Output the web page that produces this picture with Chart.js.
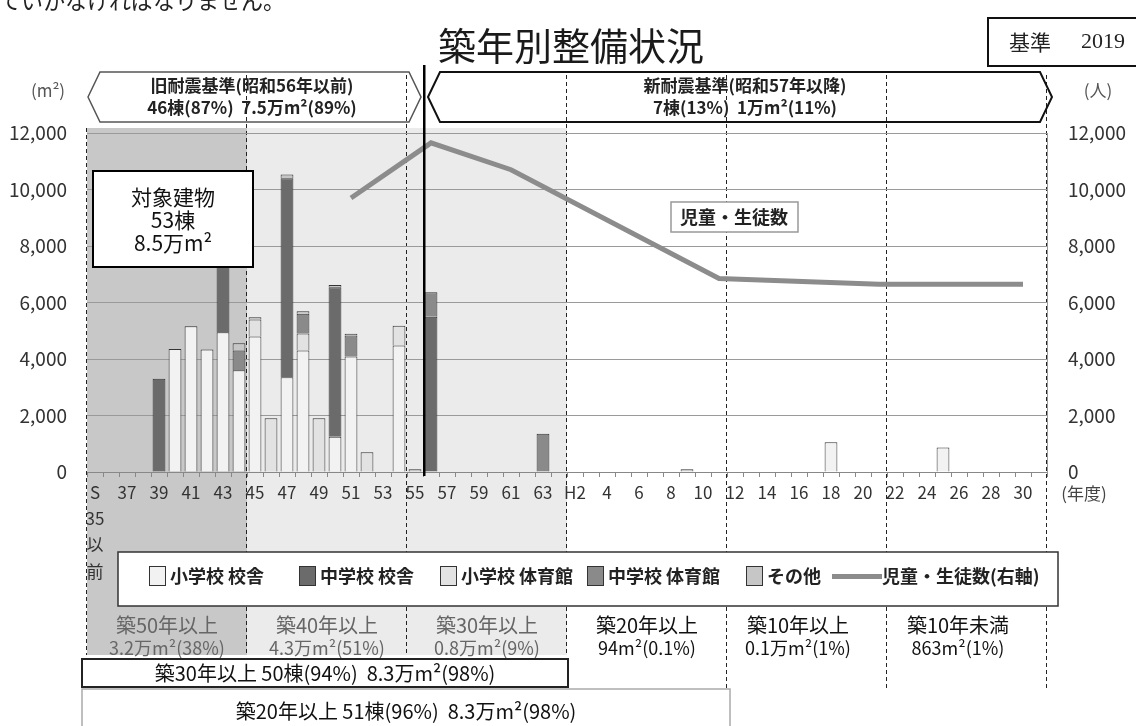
<!DOCTYPE html>
<html lang="ja">
<head>
<meta charset="utf-8">
<title>築年別整備状況</title>
<script src="https://cdn.jsdelivr.net/npm/chart.js@4"></script>
<style>
  html, body { margin: 0; padding: 0; background: #fff; }
  #chart { display: block; }
</style>
</head>
<body>
<canvas id="chart" width="1136" height="726"></canvas>
<script>
const JP = '"Noto Sans CJK JP", "DejaVu Sans", sans-serif';

// fiscal years, S35以前 .. H31
const years = [
  'S35以前', 'S36', 'S37', 'S38', 'S39', 'S40', 'S41', 'S42', 'S43', 'S44',
  'S45', 'S46', 'S47', 'S48', 'S49', 'S50', 'S51', 'S52', 'S53', 'S54',
  'S55', 'S56', 'S57', 'S58', 'S59', 'S60', 'S61', 'S62', 'S63', 'H1',
  'H2', 'H3', 'H4', 'H5', 'H6', 'H7', 'H8', 'H9', 'H10', 'H11',
  'H12', 'H13', 'H14', 'H15', 'H16', 'H17', 'H18', 'H19', 'H20', 'H21',
  'H22', 'H23', 'H24', 'H25', 'H26', 'H27', 'H28', 'H29', 'H30', 'H31'
];

const tickLabels = [
  ['S', '35', '以', '前'], '', '37', '', '39', '', '41', '', '43', '',
  '45', '', '47', '', '49', '', '51', '', '53', '',
  '55', '', '57', '', '59', '', '61', '', '63', '',
  'H2', '', '4', '', '6', '', '8', '', '10', '',
  '12', '', '14', '', '16', '', '18', '', '20', '',
  '22', '', '24', '', '26', '', '28', '', '30', ''
];

const _ = null;
// floor area (m2) by building type
const elemBuilding = [
  _, _, _, _, _, 4350, 5160, 4340, 4950, 3600,
  4800, _, 3350, 4300, _, 1250, 4090, _, _, 4480,
  _, _, _, _, _, _, _, _, _, _,
  _, _, _, _, _, _, _, _, _, _,
  _, _, _, _, _, _, 1050, _, _, _,
  _, _, _, 863, _, _, _, _, _, _
];
const juniorBuilding = [
  _, _, _, _, 3300, _, _, _, 5100, _,
  _, _, 7050, _, _, 5290, _, _, _, _,
  _, 5500, _, _, _, _, _, _, _, _,
  _, _, _, _, _, _, _, _, _, _,
  _, _, _, _, _, _, _, _, _, _,
  _, _, _, _, _, _, _, _, _, _
];
const elemGym = [
  _, _, _, _, _, _, _, _, _, _,
  600, 1900, _, 600, 1900, _, _, 700, _, 700,
  _, _, _, _, _, _, _, _, _, _,
  _, _, _, _, _, _, _, _, _, _,
  _, _, _, _, _, _, _, _, _, _,
  _, _, _, _, _, _, _, _, _, _
];
const juniorGym = [
  _, _, _, _, _, _, _, _, _, 700,
  _, _, _, 700, _, _, 740, _, _, _,
  _, 860, _, _, _, _, _, _, 1350, _,
  _, _, _, _, _, _, _, _, _, _,
  _, _, _, _, _, _, _, _, _, _,
  _, _, _, _, _, _, _, _, _, _
];
const others = [
  _, _, _, _, _, _, _, _, _, 260,
  80, _, 130, 90, _, 80, 60, _, _, _,
  100, _, _, _, _, _, _, _, _, _,
  _, _, _, _, _, _, _, 94, _, _,
  _, _, _, _, _, _, _, _, _, _,
  _, _, _, _, _, _, _, _, _, _
];
// pupils and students (right axis)
const students = [
  _, _, _, _, _, _, _, _, _, _,
  _, _, _, _, _, _, 9700, _, _, _,
  _, 11650, _, _, _, _, 10700, _, _, _,
  _, _, _, _, _, _, _, _, _, 6850,
  _, _, _, _, _, _, _, _, _, 6650,
  _, _, _, _, _, _, _, _, 6650, _
];

const seriesNames = ['小学校 校舎', '中学校 校舎', '小学校 体育館', '中学校 体育館', 'その他', '児童・生徒数(右軸)'];
const seriesColors = ['#f2f2f2', '#6b6b6b', '#e2e2e2', '#8a8a8a', '#c6c6c6', '#8c8c8c'];

function text(ctx, str, x, y, font, color, align) {
  ctx.font = font;
  ctx.fillStyle = color || '#222';
  ctx.textAlign = align || 'center';
  ctx.textBaseline = 'middle';
  ctx.fillText(str, x, y);
}

function chevronBox(ctx, x1, x2, y1, y2, color, width) {
  const ym = (y1 + y2) / 2;
  ctx.beginPath();
  ctx.moveTo(x1, ym);
  ctx.lineTo(x1 + 12, y1);
  ctx.lineTo(x2 - 12, y1);
  ctx.lineTo(x2, ym);
  ctx.lineTo(x2 - 12, y2);
  ctx.lineTo(x1 + 12, y2);
  ctx.closePath();
  ctx.strokeStyle = color;
  ctx.lineWidth = width;
  ctx.stroke();
}

const decor = {
  id: 'decor',
  beforeDraw(chart) {
    const {ctx, chartArea: a} = chart;
    const edge = i => a.left + i * a.width / years.length;
    ctx.save();
    // age bands
    ctx.fillStyle = '#c8c8c8';
    ctx.fillRect(edge(0), 128, edge(10) - edge(0), 527);
    ctx.fillStyle = '#ebebeb';
    ctx.fillRect(edge(10), 128, edge(30) - edge(10), 527);
    // dashed band borders
    ctx.setLineDash([4, 3]);
    ctx.strokeStyle = '#222';
    ctx.lineWidth = 1;
    [0, 10, 20, 30, 40, 50, 60].forEach(i => {
      const px = Math.round(edge(i)) - 0.5;
      ctx.beginPath();
      ctx.moveTo(px, i === 0 ? 128 : 75);
      ctx.lineTo(px, i <= 30 ? 655 : 690);
      ctx.stroke();
    });
    ctx.restore();
  },
  afterDraw(chart) {
    const {ctx, chartArea: a} = chart;
    const edge = i => a.left + i * a.width / years.length;
    ctx.save();

    // cut-off line of body text above the chart
    ctx.font = '22px ' + JP;
    ctx.fillStyle = '#222';
    ctx.textAlign = 'left';
    ctx.textBaseline = 'alphabetic';
    ctx.fillText('ていかなければなりません。', -1, 9);

    text(ctx, '築年別整備状況', 571, 46, '38px ' + JP, '#1a1a1a');

    // base year box
    ctx.fillStyle = '#fff';
    ctx.fillRect(988, 18, 160, 48);
    ctx.strokeStyle = '#111';
    ctx.lineWidth = 2;
    ctx.strokeRect(988, 18, 160, 48);
    text(ctx, '基準', 1030, 42, '21px ' + JP, '#222');
    text(ctx, '2019', 1103, 42, '22px "Liberation Serif", serif', '#222');

    // units
    text(ctx, '(m²)', 48, 91, '17px ' + JP, '#555');
    text(ctx, '(人)', 1098, 91, '17px ' + JP, '#555');
    text(ctx, '(年度)', 1084, 494, '17px ' + JP, '#444');

    // seismic standard split
    ctx.fillStyle = '#000';
    ctx.fillRect(edge(21), 65, 2.5, 411);
    chevronBox(ctx, 88, 421, 72, 122, '#555', 1.5);
    chevronBox(ctx, 428, 1052, 72, 122, '#111', 2);
    text(ctx, '旧耐震基準(昭和56年以前)', 252, 86, 'bold 17px ' + JP, '#222');
    text(ctx, '46棟(87%)  7.5万m²(89%)', 252, 108, 'bold 17px ' + JP, '#222');
    text(ctx, '新耐震基準(昭和57年以降)', 745, 86, 'bold 17px ' + JP, '#222');
    text(ctx, '7棟(13%)  1万m²(11%)', 745, 108, 'bold 17px ' + JP, '#222');

    // target buildings box
    ctx.fillStyle = '#fff';
    ctx.fillRect(93, 171, 160, 96);
    ctx.strokeStyle = '#000';
    ctx.lineWidth = 2;
    ctx.strokeRect(93, 171, 160, 96);
    text(ctx, '対象建物', 173, 197, '21px ' + JP, '#111');
    text(ctx, '53棟', 173, 220, '21px ' + JP, '#111');
    text(ctx, '8.5万m²', 173, 243, '21px ' + JP, '#111');

    // line label
    ctx.fillStyle = '#fff';
    ctx.fillRect(671, 202, 127, 30);
    ctx.strokeStyle = '#999';
    ctx.lineWidth = 1.5;
    ctx.strokeRect(671, 202, 127, 30);
    text(ctx, '児童・生徒数', 734, 217, 'bold 18px ' + JP, '#222');

    // legend
    ctx.fillStyle = '#fff';
    ctx.fillRect(118, 552, 940, 54);
    ctx.strokeStyle = '#333';
    ctx.lineWidth = 1.5;
    ctx.strokeRect(118, 552, 940, 54);
    const legendX = [149, 299, 440, 587, 746, 832];
    seriesNames.forEach((name, i) => {
      const lx = legendX[i];
      if (i < 5) {
        ctx.fillStyle = seriesColors[i];
        ctx.fillRect(lx, 566, 16, 19);
        ctx.strokeStyle = '#333';
        ctx.lineWidth = 1;
        ctx.strokeRect(lx + 0.5, 566.5, 16, 19);
        text(ctx, name, lx + 21, 576, 'bold 18px ' + JP, '#222', 'left');
      } else {
        ctx.fillStyle = seriesColors[i];
        ctx.fillRect(lx, 574, 50, 5);
        text(ctx, name, lx + 50, 576, 'bold 18px ' + JP, '#222', 'left');
      }
    });

    // age band summary
    const bands = [
      ['築50年以上', '3.2万m²(38%)', '#666'],
      ['築40年以上', '4.3万m²(51%)', '#666'],
      ['築30年以上', '0.8万m²(9%)', '#666'],
      ['築20年以上', '94m²(0.1%)', '#111'],
      ['築10年以上', '0.1万m²(1%)', '#111'],
      ['築10年未満', '863m²(1%)', '#111']
    ];
    bands.forEach((b, i) => {
      const cx = (edge(i * 10) + edge(i * 10 + 10)) / 2 - (i >= 4 ? 9 : 0);
      text(ctx, b[0], cx, 625, '20px ' + JP, b[2]);
      text(ctx, b[1], cx, 648, '18px ' + JP, b[2]);
    });

    ctx.fillStyle = '#fff';
    ctx.fillRect(82, 689, 648, 40);
    ctx.strokeStyle = '#aaa';
    ctx.lineWidth = 1.5;
    ctx.strokeRect(82, 689, 648, 40);
    text(ctx, '築20年以上 51棟(96%)  8.3万m²(98%)', 406, 711, '20px ' + JP, '#111');

    ctx.fillStyle = '#fff';
    ctx.fillRect(82, 659, 486, 28);
    ctx.strokeStyle = '#222';
    ctx.lineWidth = 2;
    ctx.strokeRect(82, 659, 486, 28);
    text(ctx, '築30年以上 50棟(94%)  8.3万m²(98%)', 325, 673, '20px ' + JP, '#111');

    ctx.restore();
  }
};

function barSet(i, data) {
  return {
    label: seriesNames[i],
    data: data,
    backgroundColor: seriesColors[i],
    borderColor: '#333',
    borderWidth: 1,
    barPercentage: 0.8,
    categoryPercentage: 1,
    order: 1
  };
}

new Chart(document.getElementById('chart'), {
  type: 'bar',
  data: {
    labels: years,
    datasets: [
      barSet(0, elemBuilding),
      barSet(1, juniorBuilding),
      barSet(2, elemGym),
      barSet(3, juniorGym),
      barSet(4, others),
      {
        type: 'line',
        label: seriesNames[5],
        data: students,
        yAxisID: 'y2',
        borderColor: seriesColors[5],
        borderWidth: 5,
        pointRadius: 0,
        tension: 0,
        spanGaps: true,
        order: 0
      }
    ]
  },
  options: {
    responsive: false,
    devicePixelRatio: 1,
    animation: false,
    layout: { padding: { top: 133, left: 0, right: 0, bottom: 0 } },
    plugins: {
      legend: { display: false },
      title: { display: false },
      tooltip: { enabled: false }
    },
    scales: {
      x: {
        stacked: true,
        afterFit: s => { s.height = 254; },
        border: { display: true, color: '#888' },
        grid: { offset: true, drawOnChartArea: false, tickLength: 5, color: '#888' },
        ticks: {
          autoSkip: false,
          maxRotation: 0,
          minRotation: 0,
          padding: 2,
          color: '#333',
          font: { family: JP, size: 17, lineHeight: 1.55 },
          callback: (v, i) => tickLabels[i]
        }
      },
      y: {
        stacked: true,
        min: 0,
        max: 12000,
        afterFit: s => { s.width = 87; },
        border: { display: false },
        grid: { color: '#9a9a9a', drawTicks: false },
        ticks: {
          stepSize: 2000,
          padding: 20,
          color: '#333',
          font: { family: JP, size: 19 },
          callback: v => v.toLocaleString('en-US')
        }
      },
      y2: {
        position: 'right',
        min: 0,
        max: 12000,
        afterFit: s => { s.width = 89; },
        border: { display: true, color: '#999' },
        grid: { drawOnChartArea: false, drawTicks: false },
        ticks: {
          stepSize: 2000,
          padding: 21,
          color: '#333',
          font: { family: JP, size: 19 },
          callback: v => v.toLocaleString('en-US')
        }
      }
    }
  },
  plugins: [decor]
});
</script>
</body>
</html>
